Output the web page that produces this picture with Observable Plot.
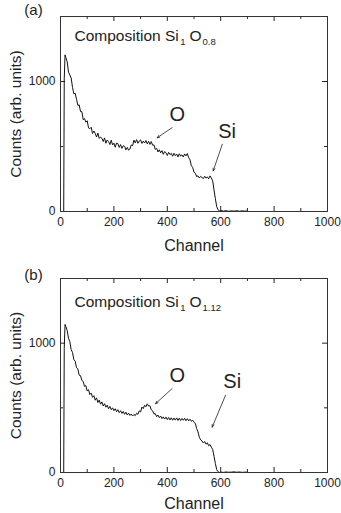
<!DOCTYPE html>
<html><head><meta charset="utf-8">
<script src="https://cdn.jsdelivr.net/npm/d3@7"></script>
<script src="https://cdn.jsdelivr.net/npm/@observablehq/plot@0.6"></script>
<style>
body{margin:0;background:#fff;width:341px;height:513px;overflow:hidden}
#chart svg{display:block}
</style>
</head><body><div id="chart"></div>
<script>
const channels = [0, 11, 12, 14, 17, 20,
  25, 30, 35, 40, 45, 50, 55, 60, 65, 70, 75, 80, 85, 90, 95, 100,
  105, 110, 115, 120, 125, 130, 135, 140, 145, 150, 155, 160, 165, 170, 175, 180, 185, 190, 195, 200,
  205, 210, 215, 220, 225, 230, 235, 240, 245, 250, 255, 260, 265, 270, 275, 280, 285, 290, 295, 300,
  305, 310, 315, 320, 325, 330, 335, 340, 345, 350, 355, 360, 365, 370, 375, 380, 385, 390, 395, 400,
  405, 410, 415, 420, 425, 430, 435, 440, 445, 450, 455, 460, 465, 470, 475, 480, 485, 490, 495, 500,
  505, 510, 515, 520, 525, 530, 535, 540, 545, 550, 555, 560, 565, 570, 575, 580, 585, 590, 595, 600,
  610, 620, 630, 640, 650, 660, 670, 680, 690, 700];

const countsA = [0, 0, 0, 1020, 1205, 1185,
  1152, 1072, 1050, 1027, 955, 905, 910, 863, 816, 820, 769, 768, 706, 715, 687, 698,
  643, 637, 648, 600, 619, 601, 573, 603, 562, 573, 563, 538, 566, 525, 550, 538, 515, 549, 512, 526,
  494, 527, 522, 493, 515, 485, 506, 501, 474, 493, 472, 481, 512, 506, 549, 528, 553, 525, 542, 551,
  524, 541, 527, 546, 520, 540, 516, 538, 510, 512, 478, 486, 458, 475, 452, 468, 440, 461, 452, 431,
  455, 438, 447, 425, 448, 430, 442, 420, 444, 426, 436, 419, 443, 428, 446, 414, 398, 352, 340, 302,
  294, 268, 275, 258, 270, 262, 253, 271, 257, 266, 252, 274, 258, 236, 165, 98, 38, 13, 4, 8,
  3, 6, 2, 5, 3, 6, 2, 5, 3, 4];

const countsB = [0, 0, 0, 960, 1145, 1130,
  1098, 1038, 1011, 950, 928, 872, 861, 810, 801, 752, 749, 712, 704, 666, 672, 631,
  640, 603, 614, 581, 594, 559, 577, 541, 560, 528, 546, 514, 532, 505, 520, 493, 511, 486, 500, 478,
  493, 470, 486, 463, 478, 457, 472, 450, 466, 445, 459, 441, 452, 437, 448, 440, 458, 450, 477, 468,
  506, 494, 520, 508, 531, 514, 516, 485, 477, 453, 455, 432, 444, 424, 437, 416, 430, 413, 428, 409,
  425, 406, 423, 404, 421, 405, 422, 403, 420, 402, 418, 404, 419, 400, 416, 399, 412, 396, 404, 388,
  380, 340, 314, 272, 252, 244, 228, 240, 219, 229, 207, 216, 196, 178, 126, 70, 22, 6, 0, 3,
  1, 4, 2, 3, 5, 2, 4, 1, 3, 2];

const xMajorTicks = [0, 200, 400, 600, 800, 1000];
const xMinorTicks = [100, 300, 500, 700, 900];
const yMajorTicks = [0, 1000];
const yMinorTicks = [500];

const panelLabels = ["(a)", "(b)"];
const oxygenSubscripts = ["0.8", "1.12"];
const peakNames = ["O", "Si"];

// peak label positions (channel, counts) and arrows
const peakLabelXA = [437, 624], peakLabelYA = [746, 618];
const arrowX1A = [418, 606], arrowY1A = [645, 517], arrowX2A = [362, 572], arrowY2A = [567, 313];
const peakLabelXB = [437, 643], peakLabelYB = [752, 700];
const arrowX1B = [418, 618], arrowY1B = [649, 597], arrowX2B = [356, 568], arrowY2B = [532, 351];

const FONT = "'Liberation Sans', Arial, Helvetica, sans-serif";
const INK = "#222";
const ctx = document.createElement("canvas").getContext("2d");
function measure(s, size) { ctx.font = `${size}px ${FONT}`; return ctx.measureText(s).width; }

function panel(idx, counts, opts) {
  const W = 341, mL = 60, mR = 14;
  const {height, marginTop, marginBottom, compDy, lx, ly, ax1, ay1, ax2, ay2} = opts;
  const fh = height - marginTop - marginBottom;
  const fw = W - mL - mR;
  const data = channels.map((c, i) => ({c, v: counts[i]}));
  const arrows = ax1.map((_, i) => ({x1: ax1[i], y1: ay1[i], x2: ax2[i], y2: ay2[i]}));
  const labels = peakNames.map((t, i) => ({t, x: lx[i], y: ly[i]}));
  const txt = (s, o) => Plot.text([s], {text: d => d, frameAnchor: "top-left", textAnchor: "start", lineAnchor: "bottom", fill: INK, ...o});
  const big = 15.5, small = 9.5;
  const x0 = 14;
  const x1 = x0 + measure("Composition Si", big) + 1.5;
  const x2 = x1 + measure("1", small) + 4;
  const x3 = x2 + measure("O", big) + 1;
  return Plot.plot({
    width: W, height, marginTop, marginBottom, marginLeft: mL, marginRight: mR,
    x: {domain: [0, 1000]},
    y: {domain: [0, 1500]},
    style: {fontFamily: FONT, fontSize: "12px", color: INK, background: "white", overflow: "visible"},
    marks: [
      Plot.axisX({ticks: xMajorTicks, tickSize: 0, tickPadding: 6, label: null, tickFormat: "d", fontSize: 12}),
      Plot.axisY({ticks: yMajorTicks, tickSize: 0, tickPadding: 5, label: null, tickFormat: "d", fontSize: 12}),
      Plot.tickX(xMajorTicks, {x: d => d, insetTop: fh - 5, stroke: INK}),
      Plot.tickX(xMajorTicks, {x: d => d, insetBottom: fh - 5, stroke: INK}),
      Plot.tickX(xMinorTicks, {x: d => d, insetTop: fh - 3, stroke: INK}),
      Plot.tickX(xMinorTicks, {x: d => d, insetBottom: fh - 3, stroke: INK}),
      Plot.tickY(yMajorTicks, {y: d => d, insetRight: fw - 5, stroke: INK}),
      Plot.tickY(yMajorTicks, {y: d => d, insetLeft: fw - 5, stroke: INK}),
      Plot.tickY(yMinorTicks, {y: d => d, insetRight: fw - 3, stroke: INK}),
      Plot.tickY(yMinorTicks, {y: d => d, insetLeft: fw - 3, stroke: INK}),
      Plot.line(data, {x: "c", y: "v", stroke: "#111", strokeWidth: 1}),
      Plot.frame({stroke: "#333", strokeWidth: 1}),
      Plot.arrow(arrows, {x1: "x1", y1: "y1", x2: "x2", y2: "y2", stroke: INK, strokeWidth: 0.8, headLength: 5, headAngle: 45}),
      Plot.text(labels, {x: "x", y: "y", text: "t", fontSize: 20, fill: INK, textAnchor: "middle", lineAnchor: "middle"}),
      txt("Composition Si", {dx: x0, dy: compDy, fontSize: big}),
      txt("1", {dx: x1, dy: compDy + 4, fontSize: small}),
      txt("O", {dx: x2, dy: compDy, fontSize: big}),
      txt(oxygenSubscripts[idx], {dx: x3, dy: compDy + 4, fontSize: small}),
      Plot.text([panelLabels[idx]], {text: d => d, frameAnchor: "top-left", dx: -27, dy: opts.labelDy, textAnchor: "middle", lineAnchor: "bottom", fontSize: 15, fill: INK}),
      Plot.text(["Channel"], {text: d => d, frameAnchor: "bottom", dy: opts.channelDy, textAnchor: "middle", lineAnchor: "bottom", fontSize: 16, fill: INK}),
      Plot.text(["Counts (arb. units)"], {text: d => d, frameAnchor: "left", dx: -40, rotate: -90, textAnchor: "middle", lineAnchor: "bottom", fontSize: 15.5, fill: INK})
    ]
  });
}

const root = document.getElementById("chart");
root.append(panel(0, countsA, {height: 256, marginTop: 16, marginBottom: 45, compDy: 24, labelDy: -2, channelDy: 39,
  lx: peakLabelXA, ly: peakLabelYA, ax1: arrowX1A, ay1: arrowY1A, ax2: arrowX2A, ay2: arrowY2A}));
root.append(panel(1, countsB, {height: 257, marginTop: 22, marginBottom: 41, compDy: 28, labelDy: 1, channelDy: 36,
  lx: peakLabelXB, ly: peakLabelYB, ax1: arrowX1B, ay1: arrowY1B, ax2: arrowX2B, ay2: arrowY2B}));
</script>
</body></html>
